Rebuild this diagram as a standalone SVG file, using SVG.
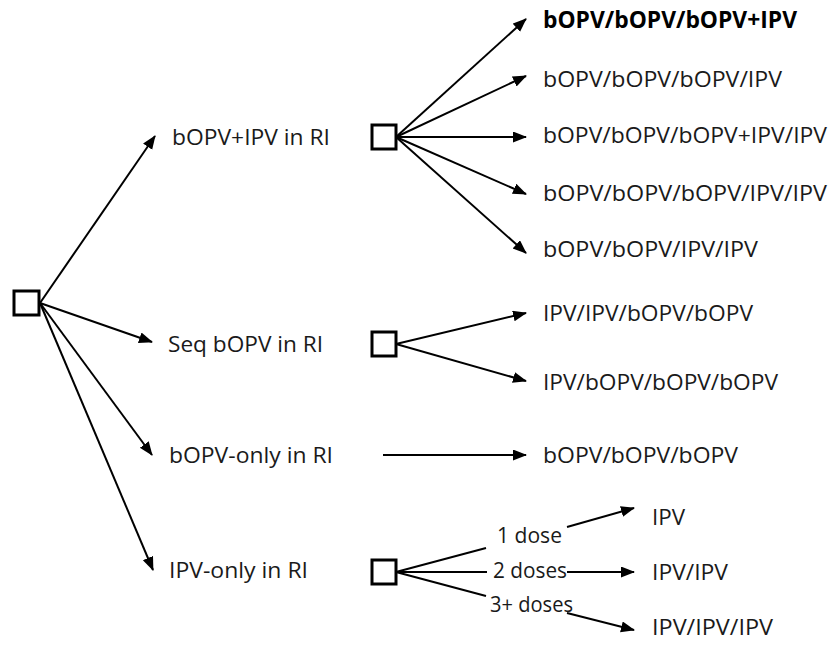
<svg xmlns="http://www.w3.org/2000/svg" width="835" height="647" viewBox="0 0 835 647">
<style>
text{font-family:"Open Sans","Liberation Sans",sans-serif;font-size:22.5px;fill:#1a1a1a}
.b{font-weight:bold;fill:#000}
.box{fill:#fff;stroke:#000;stroke-width:3}
.c line{stroke:#000;stroke-width:2}
.a{marker-end:url(#ah)}
</style>
<defs>
<marker id="ah" markerUnits="userSpaceOnUse" markerWidth="14" markerHeight="12" refX="13" refY="5.5" orient="auto" viewBox="0 0 14 12">
<path d="M0,0 L14,5.5 L0,11 z" fill="#000"/>
</marker>
</defs>
<g class="c" id="connectors">
<line class="a" x1="40" y1="303" x2="155" y2="136"/>
<line class="a" x1="40" y1="303" x2="152" y2="342"/>
<line class="a" x1="40" y1="303" x2="152" y2="455"/>
<line class="a" x1="40" y1="303" x2="153" y2="570"/>
<line class="a" x1="396" y1="137" x2="526" y2="19"/>
<line class="a" x1="396" y1="137" x2="526" y2="76"/>
<line class="a" x1="396" y1="137" x2="526" y2="137"/>
<line class="a" x1="396" y1="137" x2="526" y2="194"/>
<line class="a" x1="396" y1="137" x2="526" y2="253"/>
<line class="a" x1="396" y1="344" x2="526" y2="313"/>
<line class="a" x1="396" y1="344" x2="526" y2="381"/>
<line class="a" x1="383" y1="455" x2="526" y2="455"/>
<line x1="396" y1="572" x2="486" y2="548"/>
<line class="a" x1="567" y1="527" x2="634" y2="508"/>
<line x1="396" y1="572" x2="487" y2="572"/>
<line class="a" x1="567" y1="572" x2="634" y2="572"/>
<line x1="396" y1="572" x2="486" y2="596"/>
<line class="a" x1="567" y1="613" x2="634" y2="630"/>
</g>
<g id="root"><rect class="box" x="14" y="291" width="25" height="24"/></g>
<g id="n-ipv-ri"><text x="172" y="145" textLength="158" lengthAdjust="spacingAndGlyphs">bOPV+IPV in RI</text><rect class="box" x="372" y="125" width="24" height="24"/></g>
<g id="n-seq"><text x="168" y="352" textLength="155" lengthAdjust="spacingAndGlyphs">Seq bOPV in RI</text><rect class="box" x="372" y="332" width="24" height="24"/></g>
<g id="n-bopv-only"><text x="169" y="463" textLength="164" lengthAdjust="spacingAndGlyphs">bOPV-only in RI</text></g>
<g id="n-ipv-only"><text x="169" y="578" textLength="139" lengthAdjust="spacingAndGlyphs">IPV-only in RI</text><rect class="box" x="372" y="560" width="24" height="24"/></g>
<g id="o1"><text class="b" x="543" y="28" textLength="254" lengthAdjust="spacingAndGlyphs">bOPV/bOPV/bOPV+IPV</text></g>
<g id="o2"><text x="543" y="87" textLength="239" lengthAdjust="spacingAndGlyphs">bOPV/bOPV/bOPV/IPV</text></g>
<g id="o3"><text x="543" y="143" textLength="284" lengthAdjust="spacingAndGlyphs">bOPV/bOPV/bOPV+IPV/IPV</text></g>
<g id="o4"><text x="543" y="201" textLength="284" lengthAdjust="spacingAndGlyphs">bOPV/bOPV/bOPV/IPV/IPV</text></g>
<g id="o5"><text x="543" y="257" textLength="215" lengthAdjust="spacingAndGlyphs">bOPV/bOPV/IPV/IPV</text></g>
<g id="o6"><text x="543" y="321" textLength="210" lengthAdjust="spacingAndGlyphs">IPV/IPV/bOPV/bOPV</text></g>
<g id="o7"><text x="543" y="390" textLength="235" lengthAdjust="spacingAndGlyphs">IPV/bOPV/bOPV/bOPV</text></g>
<g id="o8"><text x="543" y="463" textLength="195" lengthAdjust="spacingAndGlyphs">bOPV/bOPV/bOPV</text></g>
<g id="o9"><text x="652" y="525" textLength="33" lengthAdjust="spacingAndGlyphs">IPV</text></g>
<g id="o10"><text x="652" y="580" textLength="76" lengthAdjust="spacingAndGlyphs">IPV/IPV</text></g>
<g id="o11"><text x="652" y="635" textLength="121" lengthAdjust="spacingAndGlyphs">IPV/IPV/IPV</text></g>
<g id="dose-labels">
<text x="497" y="543" textLength="65" lengthAdjust="spacingAndGlyphs">1 dose</text>
<text x="493" y="578" textLength="74" lengthAdjust="spacingAndGlyphs">2 doses</text>
<text x="490" y="612" textLength="83" lengthAdjust="spacingAndGlyphs">3+ doses</text>
</g>
</svg>
